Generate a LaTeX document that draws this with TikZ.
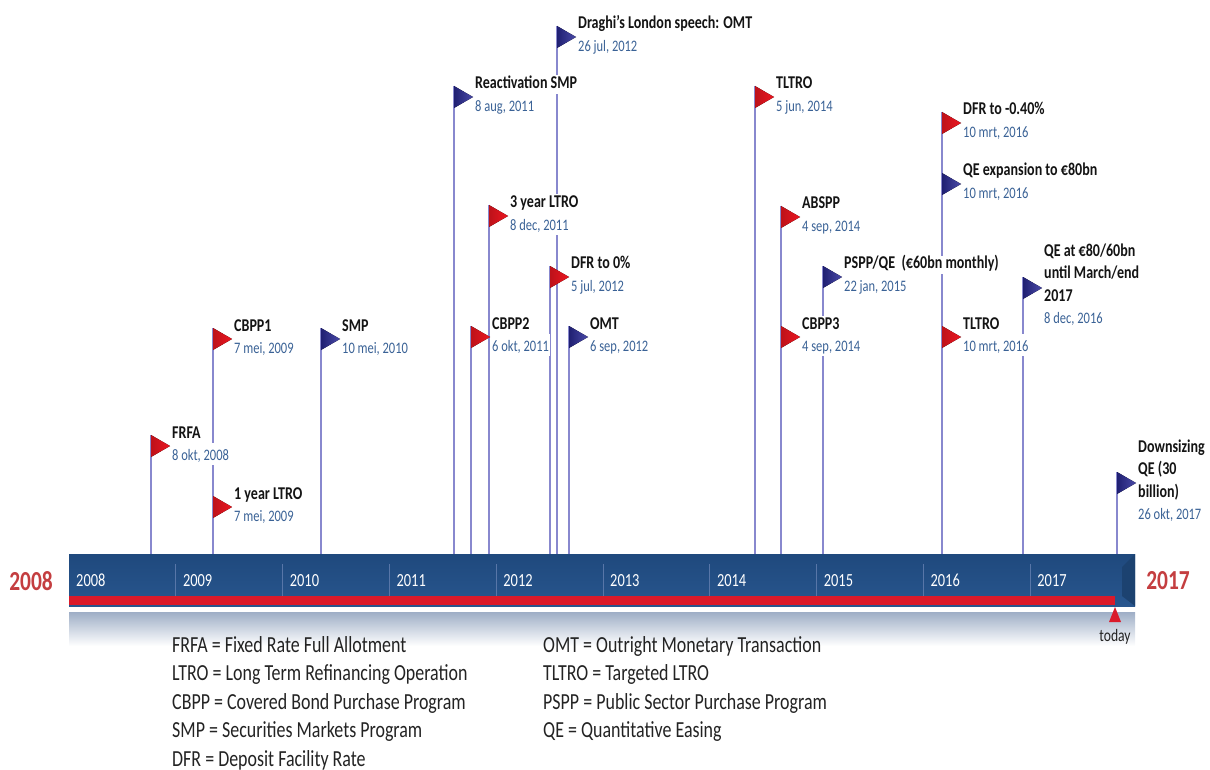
\documentclass[tikz,border=0pt]{standalone}
\usepackage{fontspec}
\setmainfont[FakeStretch=0.78]{Carlito}
\usepackage{tikz}
\usetikzlibrary{positioning}
\definecolor{barblue}{RGB}{31,73,125}
\definecolor{barblue2}{RGB}{40,86,142}
\definecolor{divline}{RGB}{88,118,168}
\definecolor{bandred}{RGB}{218,26,42}
\definecolor{polecol}{RGB}{136,136,206}
\definecolor{datecol}{RGB}{58,98,150}
\definecolor{yearred}{RGB}{196,62,64}
\definecolor{flagred}{RGB}{236,22,32}
\definecolor{flagblue}{RGB}{42,42,152}
\definecolor{legtext}{RGB}{35,35,35}
\definecolor{mirror}{RGB}{158,174,198}

\begin{document}
\begin{tikzpicture}[x=1pt, y=-1pt,
  ttl/.style={font=\fontsize{18}{22.5}\selectfont\bfseries, text=black!92, fill=white, inner sep=1pt, text height=12.5pt, text depth=4pt, anchor=base west},
  ttlm/.style={ttl, align=left, text height=57.5pt},
  dte/.style={font=\fontsize{16}{18}\selectfont, text=datecol, fill=white, inner sep=1pt, text height=16pt, text depth=4pt},
  pole/.style={draw=polecol, line width=1.8pt},
  redflag/.style={left color=flagred!80!black, right color=flagred},
  blueflag/.style={left color=flagblue!75!black, right color=flagblue!85!white},
  yearlbl/.style={font=\fontsize{18.5}{20}\selectfont, text=white, anchor=base west, inner sep=0pt},
  bigyear/.style={font=\fontsize{27.5}{30}\selectfont\bfseries, text=yearred},
  legend/.style={font=\fontsize{23}{26}\selectfont, text=legtext, inner sep=0pt, text height=16pt, text depth=5pt}
]
\useasboundingbox (0,0) rectangle (1210,770);

% timeline bar
\node[anchor=north west, minimum width=1066pt, minimum height=52pt, inner sep=0pt, top color=barblue, bottom color=barblue2] (bar) at (69,554) {};
\fill[barblue!90!black] (1122,567) -- (1135,554) -- (1135,606) -- (1122,596) -- cycle;
\fill[bandred] (69,596) rectangle (1115,605);
\shade[top color=mirror, bottom color=white] (69,612) rectangle (1135,646);
\foreach \i in {1,...,9}
  \draw[divline, line width=0.8pt] (69+106.8*\i,564) -- (69+106.8*\i,596);
\foreach \yr [count=\i from 0] in {2008,...,2017}
  \node[yearlbl] (y\yr) at (76+106.8*\i,586) {\yr};
\node[bigyear] (from) at (31,581) {2008};
\node[bigyear] (to) at (1168,581) {2017};
\coordinate (today) at (1115,607);
\fill[bandred] (today) -- ++(6,15) -- ++(-12,0) -- cycle;
\node[font=\fontsize{17.5}{20}\selectfont, text=legtext] (todaylbl) at (1115,637) {today};

% poles and flags
\coordinate (frfa-p) at (151,435);
\coordinate (cbppa-p) at (213,328);
\coordinate (ltroa-p) at (213,496);
\coordinate (smp-p) at (321,328);
\coordinate (smpr-p) at (454,86);
\coordinate (cbppb-p) at (471,326);
\coordinate (ltrob-p) at (489,205);
\coordinate (dfra-p) at (550,266);
\coordinate (draghi-p) at (557,26);
\coordinate (omt-p) at (569,326);
\coordinate (tltroa-p) at (755,86);
\coordinate (abspp-p) at (781,206);
\coordinate (cbppc-p) at (781,326);
\coordinate (pspp-p) at (823,266);
\coordinate (dfrb-p) at (942,112);
\coordinate (qeexp-p) at (942,173);
\coordinate (tltrob-p) at (942,326);
\coordinate (qeext-p) at (1023,277);
\coordinate (qedown-p) at (1117,472);

\draw[pole] (frfa-p) -- (frfa-p |- bar.north);
\draw[pole] (cbppa-p) -- (cbppa-p |- bar.north);
\draw[pole] (smp-p) -- (smp-p |- bar.north);
\draw[pole] (smpr-p) -- (smpr-p |- bar.north);
\draw[pole] (cbppb-p) -- (cbppb-p |- bar.north);
\draw[pole] (ltrob-p) -- (ltrob-p |- bar.north);
\draw[pole] (dfra-p) -- (dfra-p |- bar.north);
\draw[pole] (draghi-p) -- (draghi-p |- bar.north);
\draw[pole] (omt-p) -- (omt-p |- bar.north);
\draw[pole] (tltroa-p) -- (tltroa-p |- bar.north);
\draw[pole] (abspp-p) -- (abspp-p |- bar.north);
\draw[pole] (pspp-p) -- (pspp-p |- bar.north);
\draw[pole] (dfrb-p) -- (dfrb-p |- bar.north);
\draw[pole] (qeext-p) -- (qeext-p |- bar.north);
\draw[pole] (qedown-p) -- (qedown-p |- bar.north);

\fill[redflag] (frfa-p) -- ++(19,11) -- ++(-19,11) -- cycle;
\fill[redflag] (cbppa-p) -- ++(19,11) -- ++(-19,11) -- cycle;
\fill[redflag] (ltroa-p) -- ++(19,11) -- ++(-19,11) -- cycle;
\fill[blueflag] (smp-p) -- ++(19,11) -- ++(-19,11) -- cycle;
\fill[blueflag] (smpr-p) -- ++(19,11) -- ++(-19,11) -- cycle;
\fill[redflag] (cbppb-p) -- ++(19,11) -- ++(-19,11) -- cycle;
\fill[redflag] (ltrob-p) -- ++(19,11) -- ++(-19,11) -- cycle;
\fill[redflag] (dfra-p) -- ++(19,11) -- ++(-19,11) -- cycle;
\fill[blueflag] (draghi-p) -- ++(19,11) -- ++(-19,11) -- cycle;
\fill[blueflag] (omt-p) -- ++(19,11) -- ++(-19,11) -- cycle;
\fill[redflag] (tltroa-p) -- ++(19,11) -- ++(-19,11) -- cycle;
\fill[redflag] (abspp-p) -- ++(19,11) -- ++(-19,11) -- cycle;
\fill[redflag] (cbppc-p) -- ++(19,11) -- ++(-19,11) -- cycle;
\fill[blueflag] (pspp-p) -- ++(19,11) -- ++(-19,11) -- cycle;
\fill[redflag] (dfrb-p) -- ++(19,11) -- ++(-19,11) -- cycle;
\fill[blueflag] (qeexp-p) -- ++(19,11) -- ++(-19,11) -- cycle;
\fill[redflag] (tltrob-p) -- ++(19,11) -- ++(-19,11) -- cycle;
\fill[blueflag] (qeext-p) -- ++(19,11) -- ++(-19,11) -- cycle;
\fill[blueflag] (qedown-p) -- ++(19,11) -- ++(-19,11) -- cycle;

% labels
\node[ttl] (frfa) at ([shift={(20,3)}]frfa-p) {FRFA};
\node[dte, below right=0pt and 0pt of frfa.south west] (frfa-d) {8 okt, 2008};
\node[ttl] (cbppa) at ([shift={(20,3)}]cbppa-p) {CBPP1};
\node[dte, below right=0pt and 0pt of cbppa.south west] (cbppa-d) {7 mei, 2009};
\node[ttl] (ltroa) at ([shift={(20,3)}]ltroa-p) {1 year LTRO};
\node[dte, below right=0pt and 0pt of ltroa.south west] (ltroa-d) {7 mei, 2009};
\node[ttl] (smp) at ([shift={(20,3)}]smp-p) {SMP};
\node[dte, below right=0pt and 0pt of smp.south west] (smp-d) {10 mei, 2010};
\node[ttl] (smpr) at ([shift={(20,3)}]smpr-p) {Reactivation SMP};
\node[dte, below right=0pt and 0pt of smpr.south west] (smpr-d) {8 aug, 2011};
\node[ttl] (cbppb) at ([shift={(20,3)}]cbppb-p) {CBPP2};
\node[dte, below right=0pt and 0pt of cbppb.south west] (cbppb-d) {6 okt, 2011};
\node[ttl] (ltrob) at ([shift={(20,3)}]ltrob-p) {3 year LTRO};
\node[dte, below right=0pt and 0pt of ltrob.south west] (ltrob-d) {8 dec, 2011};
\node[ttl] (dfra) at ([shift={(20,3)}]dfra-p) {DFR to 0\%};
\node[dte, below right=0pt and 0pt of dfra.south west] (dfra-d) {5 jul, 2012};
\node[ttl] (draghi) at ([shift={(20,3)}]draghi-p) {Draghi's London speech: OMT};
\node[dte, below right=0pt and 0pt of draghi.south west] (draghi-d) {26 jul, 2012};
\node[ttl] (omt) at ([shift={(20,3)}]omt-p) {OMT};
\node[dte, below right=0pt and 0pt of omt.south west] (omt-d) {6 sep, 2012};
\node[ttl] (tltroa) at ([shift={(20,3)}]tltroa-p) {TLTRO};
\node[dte, below right=0pt and 0pt of tltroa.south west] (tltroa-d) {5 jun, 2014};
\node[ttl] (abspp) at ([shift={(20,3)}]abspp-p) {ABSPP};
\node[dte, below right=0pt and 0pt of abspp.south west] (abspp-d) {4 sep, 2014};
\node[ttl] (cbppc) at ([shift={(20,3)}]cbppc-p) {CBPP3};
\node[dte, below right=0pt and 0pt of cbppc.south west] (cbppc-d) {4 sep, 2014};
\node[ttl] (pspp) at ([shift={(20,3)}]pspp-p) {PSPP/QE\ \ (€60bn monthly)};
\node[dte, below right=0pt and 0pt of pspp.south west] (pspp-d) {22 jan, 2015};
\node[ttl] (dfrb) at ([shift={(20,3)}]dfrb-p) {DFR to -0.40\%};
\node[dte, below right=0pt and 0pt of dfrb.south west] (dfrb-d) {10 mrt, 2016};
\node[ttl] (qeexp) at ([shift={(20,3)}]qeexp-p) {QE expansion to €80bn};
\node[dte, below right=0pt and 0pt of qeexp.south west] (qeexp-d) {10 mrt, 2016};
\node[ttl] (tltrob) at ([shift={(20,3)}]tltrob-p) {TLTRO};
\node[dte, below right=0pt and 0pt of tltrob.south west] (tltrob-d) {10 mrt, 2016};
\node[ttlm] (qeext) at ([shift={(20,24)}]qeext-p) {QE at €80/60bn\\until March/end\\2017};
\node[dte, below right=0pt and 0pt of qeext.south west] (qeext-d) {8 dec, 2016};
\node[ttlm] (qedown) at ([shift={(20,25)}]qedown-p) {Downsizing\\QE (30\\billion)};
\node[dte, below right=0pt and 0pt of qedown.south west] (qedown-d) {26 okt, 2017};

% legend
\node[legend, anchor=base west] (lga) at (172,652) {FRFA = Fixed Rate Full Allotment};
\node[legend, below right=7.2pt and 0pt of lga.south west] (lgb) {LTRO = Long Term Refinancing Operation};
\node[legend, below right=7.2pt and 0pt of lgb.south west] (lgc) {CBPP = Covered Bond Purchase Program};
\node[legend, below right=7.2pt and 0pt of lgc.south west] (lgd) {SMP = Securities Markets Program};
\node[legend, below right=7.2pt and 0pt of lgd.south west] (lge) {DFR = Deposit Facility Rate};
\node[legend, anchor=base west] (lgf) at (543,652) {OMT = Outright Monetary Transaction};
\node[legend, below right=7.2pt and 0pt of lgf.south west] (lgg) {TLTRO = Targeted LTRO};
\node[legend, below right=7.2pt and 0pt of lgg.south west] (lgh) {PSPP = Public Sector Purchase Program};
\node[legend, below right=7.2pt and 0pt of lgh.south west] (lgi) {QE = Quantitative Easing};
\end{tikzpicture}
\end{document}
